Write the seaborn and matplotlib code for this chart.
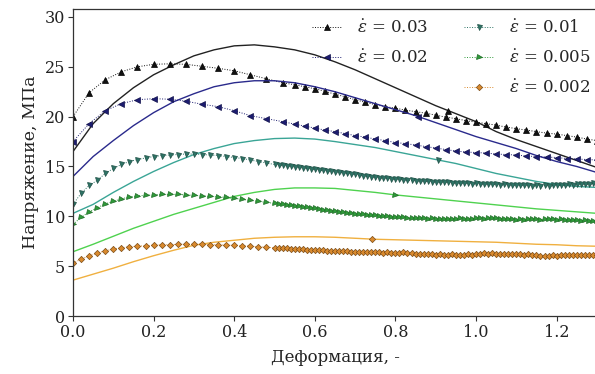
import numpy as np
import pandas as pd
import matplotlib
matplotlib.use("Agg")
import matplotlib.pyplot as plt
import seaborn as sns
from matplotlib.lines import Line2D

sns.set_theme(style="ticks")
plt.rcParams['font.family'] = ['DejaVu Serif']
plt.rcParams['mathtext.fontset'] = 'dejavuserif'

labels = ["0.03", "0.02", "0.01", "0.005", "0.002"]
exp_colors = ["#111111", "#1c1c70", "#2e7466", "#2f9a3a", "#d98a2e"]
exp_edges = ["#000000", "#10104a", "#1f4f45", "#1d6a24", "#7a4a15"]
model_colors = ["#222222", "#2a2a8c", "#3aa596", "#4fd24f", "#f0b040"]
markers = ["^", "<", "v", ">", "D"]

exp03_x = [0.00, 0.04, 0.08, 0.12, 0.16, 0.20, 0.24, 0.28, 0.32, 0.36, 0.40, 0.44, 0.48, 0.52,
           0.55, 0.575, 0.60, 0.625, 0.65, 0.675, 0.70, 0.725, 0.75, 0.775, 0.80, 0.825, 0.85,
           0.875, 0.90, 0.925, 0.95, 0.975, 1.00, 1.025, 1.05, 1.075, 1.10, 1.125, 1.15, 1.175,
           1.20, 1.225, 1.25, 1.275, 1.30]
exp03_y = [20.0, 22.4, 23.7, 24.5, 25.0, 25.25, 25.3, 25.25, 25.05, 24.85, 24.6, 24.2, 23.8, 23.4,
           23.2, 23.0, 22.8, 22.55, 22.25, 22.0, 21.7, 21.45, 21.2, 21.0, 20.85, 20.65, 20.5,
           20.35, 20.15, 19.95, 19.8, 19.6, 19.45, 19.3, 19.15, 18.95, 18.8, 18.65, 18.5, 18.35,
           18.25, 18.1, 17.95, 17.75, 17.6]

exp02_x = exp03_x
exp02_y = [17.5, 19.3, 20.6, 21.3, 21.7, 21.8, 21.75, 21.55, 21.25, 21.0, 20.6, 20.1, 19.8, 19.5,
           19.25, 19.05, 18.85, 18.65, 18.5, 18.3, 18.1, 17.95, 17.75, 17.6, 17.4, 17.3, 17.15,
           17.0, 16.85, 16.7, 16.55, 16.45, 16.4, 16.35, 16.25, 16.2, 16.15, 16.05, 16.0, 15.95,
           15.9, 15.8, 15.75, 15.7, 15.65]

# dense-sampled series: step 0.02 up to 0.50, then 0.01 up to 1.30
dense_x = list(np.round(np.arange(0, 0.501, 0.02), 3)) + list(np.round(np.arange(0.51, 1.3001, 0.01), 3))

exp01_y = [11.2, 12.3, 13.1, 13.6, 14.3, 14.8, 15.2, 15.5, 15.7, 15.85, 16.0, 16.1, 16.15, 16.2,
           16.25, 16.25, 16.2, 16.15, 16.1, 16.0, 15.9, 15.8, 15.65, 15.5, 15.35, 15.2,
           15.15, 15.1, 15.05, 15.0, 14.95, 14.9, 14.85, 14.8, 14.75, 14.7,
           14.65, 14.6, 14.55, 14.5, 14.45, 14.4, 14.35, 14.3, 14.25, 14.2,
           14.1, 14.05, 14.0, 13.95, 13.9, 13.85, 13.85, 13.8, 13.75, 13.7,
           13.7, 13.65, 13.6, 13.6, 13.55, 13.55, 13.5, 13.5, 13.45, 13.45,
           13.4, 13.45, 13.4, 13.35, 13.35, 13.3, 13.35, 13.3, 13.25, 13.3,
           13.25, 13.2, 13.25, 13.2, 13.2, 13.15, 13.2, 13.15, 13.1, 13.15,
           13.1, 13.15, 13.1, 13.05, 13.1, 13.05, 13.1, 13.05, 13.1, 13.15,
           13.1, 13.15, 13.2, 13.15, 13.2, 13.25, 13.2, 13.25, 13.3, 13.25]

exp005_y = [9.2, 9.9, 10.45, 10.85, 11.25, 11.5, 11.75, 11.95, 12.05, 12.1, 12.15, 12.2, 12.2,
            12.2, 12.15, 12.1, 12.05, 12.0, 11.95, 11.9, 11.8, 11.7, 11.6, 11.5, 11.4, 11.3,
            11.25, 11.2, 11.15, 11.1, 11.05, 11.0, 10.95, 10.9, 10.85, 10.8,
            10.75, 10.65, 10.6, 10.55, 10.5, 10.45, 10.4, 10.35, 10.3, 10.25,
            10.25, 10.2, 10.15, 10.1, 10.1, 10.05, 10.0, 10.0, 9.95, 9.95,
            9.9, 9.9, 9.85, 9.85, 9.8, 9.85, 9.8, 9.75, 9.8, 9.75,
            9.75, 9.7, 9.75, 9.7, 9.75, 9.8, 9.75, 9.7, 9.75, 9.8,
            9.8, 9.75, 9.8, 9.85, 9.8, 9.75, 9.7, 9.75, 9.7, 9.65,
            9.7, 9.65, 9.7, 9.75, 9.7, 9.65, 9.7, 9.75, 9.7, 9.65,
            9.7, 9.65, 9.6, 9.65, 9.6, 9.55, 9.6, 9.55, 9.5, 9.55]

exp002_y = [5.3, 5.7, 6.05, 6.3, 6.55, 6.7, 6.85, 6.95, 7.0, 7.05, 7.1, 7.15, 7.15, 7.2, 7.2,
            7.2, 7.2, 7.15, 7.15, 7.1, 7.1, 7.05, 7.0, 6.95, 6.9, 6.85,
            6.85, 6.8, 6.8, 6.75, 6.75, 6.7, 6.7, 6.65, 6.65, 6.6,
            6.6, 6.6, 6.55, 6.55, 6.55, 6.5, 6.5, 6.5, 6.45, 6.45,
            6.45, 6.45, 6.4, 6.4, 6.4, 6.4, 6.35, 6.4, 6.35, 6.35,
            6.35, 6.4, 6.35, 6.3, 6.25, 6.2, 6.25, 6.2, 6.2, 6.15,
            6.2, 6.15, 6.15, 6.2, 6.15, 6.1, 6.15, 6.2, 6.15, 6.2,
            6.25, 6.3, 6.25, 6.3, 6.25, 6.2, 6.25, 6.2, 6.25, 6.2,
            6.2, 6.15, 6.2, 6.15, 6.1, 6.05, 6.0, 6.05, 6.1, 6.05,
            6.1, 6.15, 6.1, 6.15, 6.1, 6.15, 6.1, 6.15, 6.1, 6.15]

# --- model curves (solid lines) ---
model_x = [0.0, 0.05, 0.1, 0.15, 0.2, 0.25, 0.3, 0.35, 0.4, 0.45, 0.5, 0.55, 0.6, 0.65, 0.7,
           0.75, 0.8, 0.85, 0.9, 0.95, 1.0, 1.05, 1.1, 1.15, 1.2, 1.25, 1.3]
model03_y = [16.5, 19.3, 21.3, 22.9, 24.2, 25.2, 26.1, 26.7, 27.1, 27.2, 27.0, 26.7, 26.2, 25.5,
             24.7, 23.8, 22.9, 22.0, 21.1, 20.3, 19.5, 18.5, 17.7, 17.0, 16.3, 15.6, 14.9]
model02_y = [14.0, 16.0, 17.6, 19.1, 20.4, 21.5, 22.3, 23.0, 23.4, 23.6, 23.6, 23.4, 23.0, 22.5,
             21.9, 21.3, 20.7, 20.1, 19.4, 18.7, 18.0, 17.4, 16.8, 16.1, 15.5, 15.0, 14.4]
model01_y = [10.3, 11.2, 12.4, 13.5, 14.5, 15.4, 16.2, 16.8, 17.3, 17.6, 17.8, 17.85, 17.75, 17.5,
             17.2, 16.9, 16.5, 16.1, 15.7, 15.3, 14.8, 14.3, 13.9, 13.5, 13.2, 13.0, 12.9]
model005_y = [6.45, 7.2, 8.0, 8.8, 9.5, 10.2, 10.8, 11.4, 12.0, 12.4, 12.7, 12.85, 12.85, 12.8,
              12.6, 12.4, 12.15, 11.95, 11.75, 11.55, 11.35, 11.15, 10.95, 10.75, 10.6, 10.45, 10.3]
model002_y = [3.6, 4.2, 4.8, 5.45, 6.05, 6.6, 7.1, 7.4, 7.6, 7.8, 7.9, 7.95, 7.95, 7.9, 7.8, 7.7,
              7.65, 7.6, 7.55, 7.5, 7.45, 7.4, 7.3, 7.2, 7.15, 7.05, 7.0]

# single markers sitting on the model lines
model_mark_x = [0.93, 0.856, 0.906, 0.80, 0.741]
model_mark_y = [20.6, 20.0, 15.7, 12.15, 7.7]

exp_x = [exp03_x, exp02_x, dense_x, dense_x, dense_x]
exp_y = [exp03_y, exp02_y, exp01_y, exp005_y, exp002_y]
model_y = [model03_y, model02_y, model01_y, model005_y, model002_y]
msizes = [3.8, 3.8, 3.6, 3.6, 3.2]

fig = plt.figure(figsize=(5.95, 3.74), dpi=100)
ax = fig.add_axes([0.1227, 0.155, 0.8805, 0.821])

dots = (0, (1, 1.6))
handles = []
for i in range(5):
    df_m = pd.DataFrame({"x": model_x, "y": model_y[i]})
    sns.lineplot(data=df_m, x="x", y="y", ax=ax, color=model_colors[i], lw=1.0,
                 sort=False, estimator=None, legend=False)
    df_e = pd.DataFrame({"x": exp_x[i], "y": exp_y[i]})
    sns.lineplot(data=df_e, x="x", y="y", ax=ax, color=exp_colors[i], lw=0.7,
                 linestyle=dots, marker=markers[i], markersize=msizes[i],
                 markerfacecolor=exp_colors[i], markeredgecolor=exp_edges[i],
                 markeredgewidth=0.5, sort=False, estimator=None, legend=False)
    ax.plot([model_mark_x[i]], [model_mark_y[i]], marker=markers[i], ls="none",
            markersize=msizes[i], color=exp_colors[i], markeredgecolor=exp_edges[i],
            markeredgewidth=0.5)
    handles.append(Line2D([], [], color=exp_colors[i], lw=0.7, linestyle=dots,
                          marker=markers[i], markersize=msizes[i],
                          markerfacecolor=exp_colors[i], markeredgecolor=exp_edges[i],
                          markeredgewidth=0.5))

blank = Line2D([], [], color="none")
leg_handles = [handles[0], handles[1], blank, handles[2], handles[3], handles[4]]
leg_labels = [r"$\dot{\varepsilon}$ = " + labels[0], r"$\dot{\varepsilon}$ = " + labels[1], "",
              r"$\dot{\varepsilon}$ = " + labels[2], r"$\dot{\varepsilon}$ = " + labels[3],
              r"$\dot{\varepsilon}$ = " + labels[4]]
ax.legend(leg_handles, leg_labels, ncol=2, loc="upper right", bbox_to_anchor=(1.008, 1.0),
          frameon=False, fontsize=12, handlelength=1.8, handletextpad=0.85,
          columnspacing=2.2, labelspacing=0.78, borderaxespad=0.25)

ax.set_xlim(0, 1.3)
ax.set_ylim(0, 30.8)
ax.set_xticks([0.0, 0.2, 0.4, 0.6, 0.8, 1.0, 1.2])
ax.set_yticks([0, 5, 10, 15, 20, 25, 30])
ax.set_xticklabels(["0.0", "0.2", "0.4", "0.6", "0.8", "1.0", "1.2"])
ax.tick_params(axis="both", labelsize=11.5, length=3.5, width=0.8, direction="out",
               colors="#333333", labelcolor="#222222", pad=2)
ax.set_xlabel("Деформация, -", fontsize=12, color="#222222", labelpad=6)
ax.set_ylabel("Напряжение, МПа", fontsize=12.5, color="#222222", labelpad=4)
for s in ["left", "bottom", "top"]:
    ax.spines[s].set_color("#333333")
    ax.spines[s].set_linewidth(0.9)
ax.spines["right"].set_visible(False)

fig.savefig("out.png", dpi=100)
